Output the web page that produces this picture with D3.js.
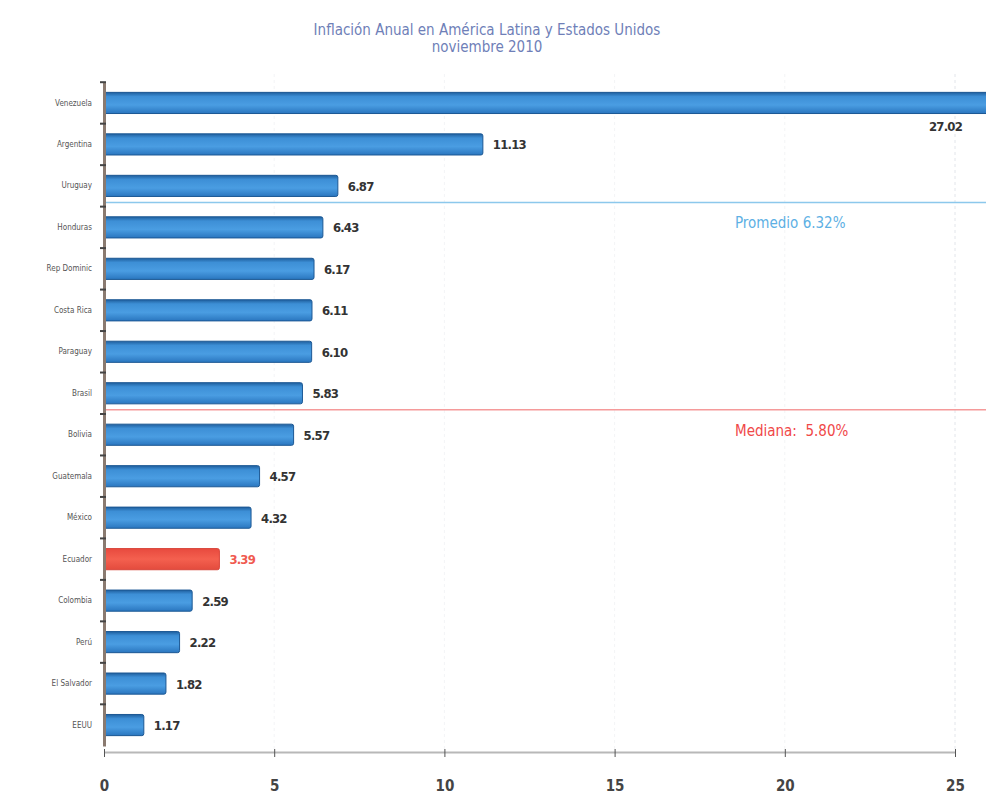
<!DOCTYPE html>
<html>
<head>
<meta charset="utf-8">
<script src="https://cdn.jsdelivr.net/npm/d3@7"></script>
<style>
  body { margin: 0; background: #fff; }
  svg text { font-family: "Liberation Sans Narrow", "DejaVu Sans Condensed", "Open Sans", sans-serif; }
</style>
</head>
<body>
<div id="chart"></div>
<script>
// Data
const countries = ["Venezuela", "Argentina", "Uruguay", "Honduras", "Rep Dominic", "Costa Rica",
                   "Paraguay", "Brasil", "Bolivia", "Guatemala", "México", "Ecuador",
                   "Colombia", "Perú", "El Salvador", "EEUU"];
const inflation = [27.02, 11.13, 6.87, 6.43, 6.17, 6.11, 6.10, 5.83, 5.57, 4.57, 4.32, 3.39, 2.59, 2.22, 1.82, 1.17];
const highlight = "Ecuador";
const xTicks = [0, 5, 10, 15, 20, 25];
const titleLines = ["Inflación Anual en América Latina y Estados Unidos", "noviembre 2010"];
// reference lines drawn below a category row
const refLines = [
  {after: "Uruguay", label: "Promedio 6.32%", color: "#8cc8ec", text: "#5db0e4"},
  {after: "Brasil", label: "Mediana:  5.80%", color: "#f59a9a", text: "#f04848"}
];

const data = countries.map((c, i) => ({country: c, value: inflation[i]}));

const W = 986, H = 800;
const margin = {top: 82, right: 0, bottom: 48, left: 104};
const width = W - margin.left - margin.right,
      height = H - margin.top - margin.bottom;

const svg = d3.select("#chart").append("svg")
    .attr("width", W).attr("height", H);

// gradient for the blue bars
const defs = svg.append("defs");
const grad = defs.append("linearGradient").attr("id", "blueBar")
    .attr("x1", 0).attr("y1", 0).attr("x2", 0).attr("y2", 1);
grad.append("stop").attr("offset", "0%").attr("stop-color", "#1f5f9e");
grad.append("stop").attr("offset", "20%").attr("stop-color", "#3d8fd6");
grad.append("stop").attr("offset", "60%").attr("stop-color", "#4a9de2");
grad.append("stop").attr("offset", "100%").attr("stop-color", "#2a76bf");
const gradR = defs.append("linearGradient").attr("id", "redBar")
    .attr("x1", 0).attr("y1", 0).attr("x2", 0).attr("y2", 1);
gradR.append("stop").attr("offset", "0%").attr("stop-color", "#e84a3e");
gradR.append("stop").attr("offset", "50%").attr("stop-color", "#f4604f");
gradR.append("stop").attr("offset", "100%").attr("stop-color", "#e34b3d");
defs.append("clipPath").attr("id", "plotClip")
  .append("rect").attr("x", 0).attr("y", -10).attr("width", width).attr("height", height + 20);

const g = svg.append("g").attr("transform", `translate(${margin.left},${margin.top})`);

// Scales
const x = d3.scaleLinear().domain([0, 25]).range([0, 851]);
const y = d3.scaleBand().domain(countries).range([0, 664]).paddingInner(0.49).paddingOuter(0.25);

// Title
svg.selectAll(".title")
   .data(titleLines)
   .enter().append("text")
   .attr("x", 487)
   .attr("y", (d, i) => 35 + i * 17)
   .attr("text-anchor", "middle")
   .style("font-size", "15px")
   .style("fill", "#6f7fb8")
   .text(d => d);

// faint vertical gridlines
g.append("g")
   .selectAll("line")
   .data(xTicks.slice(1))
   .enter().append("line")
   .attr("x1", d => x(d)).attr("x2", d => x(d))
   .attr("y1", -8).attr("y2", height)
   .attr("stroke", d => d === 25 ? "#e2e5ea" : "#f3f4f6")
   .attr("stroke-dasharray", "3,3");

// reference lines
refLines.forEach(r => {
  const ly = y(r.after) + y.bandwidth() + 6;
  g.append("line")
   .attr("x1", 0).attr("x2", width)
   .attr("y1", ly).attr("y2", ly)
   .attr("stroke", r.color).attr("stroke-width", 1.5);
  g.append("text")
   .attr("x", 631).attr("y", ly + 26)
   .attr("xml:space", "preserve")
   .style("white-space", "pre")
   .style("font-size", "15px")
   .style("fill", r.text)
   .text(r.label);
});

// Bars
const bars = g.append("g").attr("clip-path", "url(#plotClip)");
bars.selectAll("rect")
   .data(data)
   .enter().append("rect")
   .attr("x", 0)
   .attr("y", d => y(d.country))
   .attr("width", d => x(d.value))
   .attr("height", y.bandwidth())
   .attr("rx", 2)
   .attr("fill", d => d.country === highlight ? "url(#redBar)" : "url(#blueBar)")
   .attr("stroke", d => d.country === highlight ? "#d8443a" : "#1c5894")
   .attr("stroke-width", 1);

// Value labels
g.selectAll(".val")
   .data(data)
   .enter().append("text")
   .attr("x", d => x(d.value) > width ? width - 24 : x(d.value) + 10)
   .attr("y", d => x(d.value) > width ? y(d.country) + y.bandwidth() + 17 : y(d.country) + y.bandwidth() / 2 + 5)
   .attr("text-anchor", d => x(d.value) > width ? "end" : "start")
   .style("font-size", "13px")
   .style("font-weight", "bold")
   .style("letter-spacing", "-0.8px")
   .style("fill", d => d.country === highlight ? "#f05a50" : "#333")
   .text(d => d.value.toFixed(2));

// X axis
const xAxis = g.append("g")
   .attr("transform", `translate(0,${height})`)
   .call(d3.axisBottom(x).tickValues(xTicks).tickSize(6).tickPadding(22).tickSizeOuter(0));
xAxis.select(".domain").attr("stroke", "#b8b8b8").attr("stroke-width", 2);
xAxis.selectAll(".tick line").attr("stroke", "#555").attr("y1", -3).attr("y2", 5);
xAxis.selectAll("text")
   .style("font-size", "15px")
   .style("font-weight", "bold")
   .style("fill", "#444");

// Y axis
const yAxis = g.append("g")
   .call(d3.axisLeft(y).tickSize(0).tickPadding(12));
yAxis.select(".domain").attr("stroke", "#8a7a70").attr("stroke-width", 3);
yAxis.selectAll("text")
   .style("font-size", "8px")
   .style("fill", "#555");

// small marks between categories on the y axis
g.append("g")
   .selectAll("line")
   .data(countries)
   .enter().append("line")
   .attr("x1", -4).attr("x2", 2)
   .attr("y1", d => y(d) - (y.step() - y.bandwidth()) / 2)
   .attr("y2", d => y(d) - (y.step() - y.bandwidth()) / 2)
   .attr("stroke", "#444").attr("stroke-width", 2);
</script>
</body>
</html>
